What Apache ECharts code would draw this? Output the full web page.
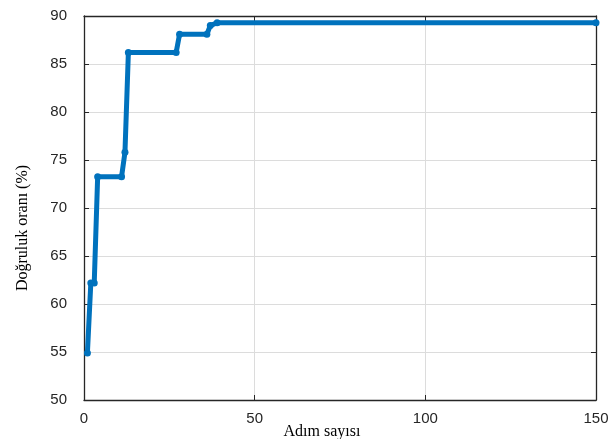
<!DOCTYPE html>
<html><head><meta charset="utf-8">
<script src="https://cdn.jsdelivr.net/npm/echarts@6/dist/echarts.min.js"></script>
<style>html,body{margin:0;padding:0;background:#fff}#c{width:615px;height:439px}</style>
</head><body><div id="c"></div>
<script>
const steps = [1, 2, 3, 4, 11, 12, 13, 27, 28, 36, 37, 39, 150];
const accuracy = [54.9, 62.2, 62.2, 73.25, 73.25, 75.8, 86.2, 86.2, 88.1, 88.1, 89.0, 89.3, 89.3];
const xTicks = [0, 50, 100, 150];
const yTicks = [50, 55, 60, 65, 70, 75, 80, 85, 90];
const xLabel = 'Adım sayısı';
const yLabel = 'Doğruluk oranı (%)';

const chart = echarts.init(document.getElementById('c'), null, {renderer: 'canvas'});
const axisCommon = {
  axisLine: {show: true, onZero: false, lineStyle: {color: '#262626', width: 1.3}},
  axisTick: {show: true, inside: true, length: 5, lineStyle: {color: '#262626', width: 1}},
};
chart.setOption({
  animation: false,
  grid: {left: 84, right: 19, top: 16, bottom: 39},
  graphic: [
    {type: 'text', x: 23, y: 228, rotation: Math.PI / 2,
      style: {text: yLabel, fontFamily: 'Liberation Serif', fontSize: 16, fill: '#000',
        textAlign: 'center', textVerticalAlign: 'middle'}},
    {type: 'text', x: 322, y: 432,
      style: {text: xLabel, fontFamily: 'Liberation Serif', fontSize: 16, fill: '#000',
        textAlign: 'center', textVerticalAlign: 'middle'}}
  ],
  xAxis: [
    Object.assign({type: 'value', min: 0, max: 150, interval: 50,
      axisLabel: {fontFamily: 'Liberation Sans', fontSize: 15, color: '#262626', margin: 11,
        formatter: v => xTicks.includes(v) ? String(v) : ''},
      splitLine: {show: true, lineStyle: {color: '#dcdcdc', width: 1}}}, axisCommon),
    Object.assign({type: 'value', position: 'top', min: 0, max: 150, interval: 50,
      axisLabel: {show: false}, splitLine: {show: false}}, axisCommon)
  ],
  yAxis: [
    Object.assign({type: 'value', min: 50, max: 90, interval: 5,
      axisLabel: {fontFamily: 'Liberation Sans', fontSize: 15, color: '#262626', margin: 17,
        formatter: v => yTicks.includes(v) ? String(v) : ''},
      splitLine: {show: true, lineStyle: {color: '#dcdcdc', width: 1}}}, axisCommon),
    Object.assign({type: 'value', position: 'right', min: 50, max: 90, interval: 5,
      axisLabel: {show: false}, splitLine: {show: false}}, axisCommon)
  ],
  series: [{
    type: 'line',
    data: steps.map((s, i) => [s, accuracy[i]]),
    lineStyle: {color: '#0072BD', width: 5},
    itemStyle: {color: '#0072BD'},
    symbol: 'circle', symbolSize: 7, showSymbol: true,
    clip: false
  }]
});
</script></body></html>
